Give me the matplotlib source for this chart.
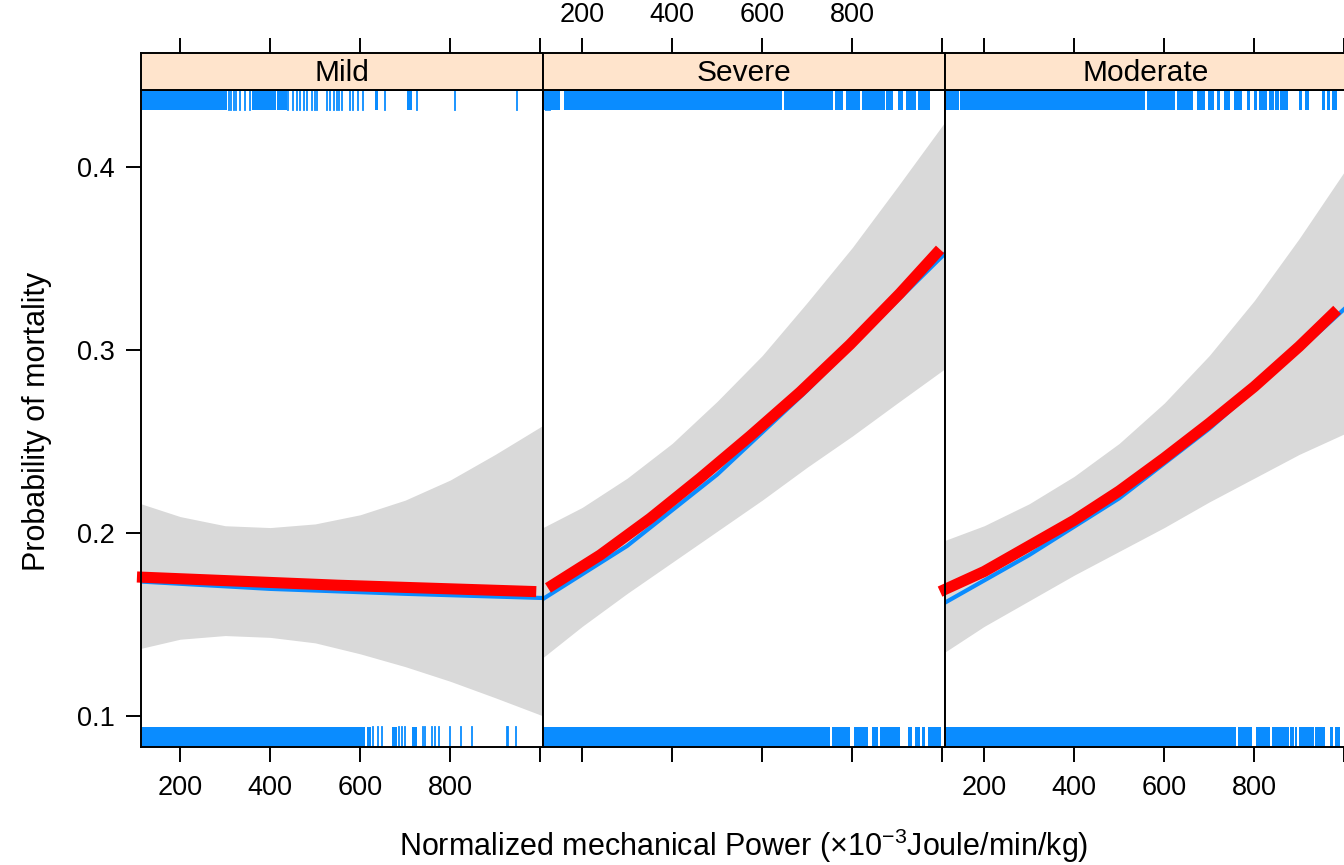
import matplotlib.pyplot as plt

plt.rcParams['font.family'] = ['Liberation Sans', 'DejaVu Sans']
plt.rcParams['mathtext.fontset'] = 'custom'
plt.rcParams['mathtext.rm'] = 'Liberation Sans'
plt.rcParams['mathtext.it'] = 'Liberation Sans:italic'

# --- data ---
panels = ['Mild', 'Severe', 'Moderate']
x_ticks = [200, 400, 600, 800, 1000]
x_labels = ['200', '400', '600', '800', '']
y_ticks = [0.1, 0.2, 0.3, 0.4]
y_labels = ['0.1', '0.2', '0.3', '0.4']

# confidence bands (lower / upper)
band_x = [113, 200, 300, 400, 500, 600, 700, 800, 900, 1007]
mild_upper = [0.216, 0.209, 0.204, 0.203, 0.205, 0.210, 0.218, 0.229, 0.243, 0.259]
mild_lower = [0.137, 0.142, 0.144, 0.143, 0.140, 0.134, 0.127, 0.119, 0.110, 0.100]
severe_upper = [0.203, 0.214, 0.230, 0.249, 0.272, 0.297, 0.326, 0.356, 0.389, 0.425]
severe_lower = [0.132, 0.149, 0.167, 0.184, 0.201, 0.218, 0.236, 0.253, 0.271, 0.290]
moderate_upper = [0.196, 0.204, 0.216, 0.231, 0.249, 0.271, 0.297, 0.327, 0.361, 0.400]
moderate_lower = [0.135, 0.149, 0.163, 0.177, 0.190, 0.203, 0.217, 0.230, 0.243, 0.255]

# fitted effect (blue)
mild_fit_x = [113, 400, 700, 1007]
mild_fit_y = [0.1735, 0.1695, 0.1668, 0.1645]
severe_fit_x = [113, 300, 500, 700, 900, 1007]
severe_fit_y = [0.164, 0.193, 0.232, 0.278, 0.327, 0.353]
moderate_fit_x = [113, 300, 500, 700, 900, 1007]
moderate_fit_y = [0.162, 0.188, 0.219, 0.257, 0.300, 0.324]

# overlaid curve (red)
mild_red_x = [104, 550, 991]
mild_red_y = [0.176, 0.1715, 0.168]
severe_red_x = [124, 240, 351, 462, 573, 684, 795, 906, 995]
severe_red_y = [0.170, 0.188, 0.208, 0.230, 0.253, 0.277, 0.303, 0.331, 0.355]
moderate_red_x = [102, 200, 300, 400, 500, 600, 700, 800, 900, 984]
moderate_red_y = [0.168, 0.179, 0.193, 0.207, 0.223, 0.241, 0.260, 0.280, 0.302, 0.322]

# rugs: dense stretches and single ticks
mild_top_spans = [(115, 303), (359, 412), (415, 437), (633, 640), (703, 714)]
mild_top_lines = [308, 314, 320, 324, 333, 344, 355, 440, 451, 459, 466, 474, 481, 492,
                  500, 503, 526, 533, 542, 548, 552, 559, 577, 585, 596, 607, 655, 726,
                  811, 948]
mild_bot_spans = [(115, 611), (614, 623), (670, 681), (714, 725)]
mild_bot_lines = [629, 640, 648, 687, 692, 700, 740, 744, 759, 766, 774, 800, 824, 848,
                  926, 929, 946]
severe_top_spans = [(115, 150), (160, 643), (648, 757), (761, 780), (787, 817), (821, 872),
                    (876, 891), (902, 913), (920, 942), (946, 972)]
severe_top_lines = [119, 125, 129]
severe_bot_spans = [(113, 750), (755, 796), (803, 836), (843, 858), (862, 906), (924, 932),
                    (939, 950), (954, 961), (969, 998)]
severe_bot_lines = []
moderate_top_spans = [(113, 143), (146, 557), (561, 624), (628, 665), (672, 691), (698, 710),
                      (717, 724), (732, 747), (754, 773), (784, 791), (799, 806), (810, 828),
                      (832, 843), (847, 854), (858, 876), (899, 906), (913, 921), (951, 958),
                      (962, 969), (973, 984)]
moderate_top_lines = []
moderate_bot_spans = [(113, 759), (763, 796), (803, 836), (840, 877), (880, 888), (891, 895),
                      (899, 932), (936, 958), (969, 976), (980, 991)]
moderate_bot_lines = []

uppers = [mild_upper, severe_upper, moderate_upper]
lowers = [mild_lower, severe_lower, moderate_lower]
fits = [(mild_fit_x, mild_fit_y), (severe_fit_x, severe_fit_y), (moderate_fit_x, moderate_fit_y)]
reds = [(mild_red_x, mild_red_y), (severe_red_x, severe_red_y), (moderate_red_x, moderate_red_y)]
rugs = [(mild_top_spans, mild_top_lines, mild_bot_spans, mild_bot_lines),
        (severe_top_spans, severe_top_lines, severe_bot_spans, severe_bot_lines),
        (moderate_top_spans, moderate_top_lines, moderate_bot_spans, moderate_bot_lines)]

W, H = 1344, 865
fig = plt.figure(figsize=(W / 100, H / 100), dpi=100)

rug_col = '#0A8CFF'
band_col = '#D9D9D9'
strip_col = '#FFE4CC'
lw_frame = 1.4
tick_fs = 19.5

for i, name in enumerate(panels):
    left = 141 + 402 * i
    ax = fig.add_axes([left / W, 1 - 747 / H, 402 / W, 657 / H])
    ax.set_xlim(113, 1006)
    ax.set_ylim(0.0831, 0.4421)

    ax.fill_between(band_x, lowers[i], uppers[i], color=band_col, lw=0, zorder=1)
    ax.plot(fits[i][0], fits[i][1], color='#0A8CFF', lw=3, zorder=3)
    ax.plot(reds[i][0], reds[i][1], color='red', lw=8, zorder=4, clip_on=False,
            solid_capstyle='butt')

    top_spans, top_lines, bot_spans, bot_lines = rugs[i]
    for a, b in top_spans:
        ax.axvspan(a, b, ymin=0.969, ymax=1.0, color=rug_col, lw=0, zorder=2)
    for v in top_lines:
        ax.axvline(v, ymin=0.969, ymax=1.0, color=rug_col, lw=1.3, zorder=2)
    for a, b in bot_spans:
        ax.axvspan(a, b, ymin=0.0, ymax=0.031, color=rug_col, lw=0, zorder=2)
    for v in bot_lines:
        ax.axvline(v, ymin=0.0, ymax=0.031, color=rug_col, lw=1.3, zorder=2)

    for s in ax.spines.values():
        s.set_linewidth(lw_frame)
        s.set_zorder(5)

    ax.set_xticks(x_ticks)
    ax.set_xticklabels(x_labels)
    ax.tick_params(axis='x', direction='out', length=11, width=lw_frame, labelsize=tick_fs,
                   pad=9, labelbottom=(i != 1))
    if i == 0:
        ax.set_yticks(y_ticks)
        ax.set_yticklabels(y_labels)
        ax.tick_params(axis='y', direction='out', length=11, width=lw_frame,
                       labelsize=tick_fs, pad=8)
    else:
        ax.set_yticks([])

    # strip with panel name, top axis ticks sit above it
    sax = fig.add_axes([left / W, 1 - 90 / H, 402 / W, 37 / H])
    sax.set_facecolor(strip_col)
    sax.set_xlim(113, 1006)
    sax.set_ylim(0, 1)
    sax.set_yticks([])
    sax.set_xticks(x_ticks)
    sax.set_xticklabels(x_labels)
    sax.xaxis.tick_top()
    sax.tick_params(axis='x', direction='out', length=11, width=lw_frame, labelsize=tick_fs,
                    pad=7, labeltop=(i == 1), labelbottom=False, bottom=False)
    for s in sax.spines.values():
        s.set_linewidth(lw_frame)
    sax.text(0.5, 0.47, name, transform=sax.transAxes, ha='center', va='center',
             fontsize=21.5)

fig.text(37 / W, 1 - 421 / H, 'Probability of mortality', rotation=90,
         ha='center', va='center', fontsize=22)
fig.text(744 / W, 1 - 846 / H, r'Normalized mechanical Power ($\times$10$^{-3}$Joule/min/kg)',
         ha='center', va='center', fontsize=22)

fig.savefig('out.png', dpi=100)
